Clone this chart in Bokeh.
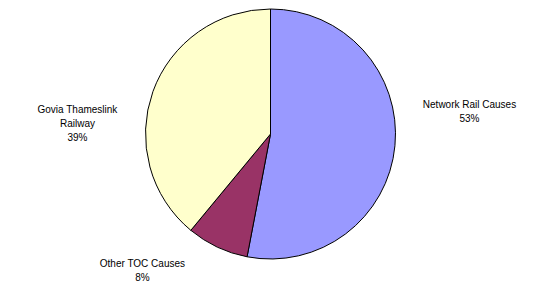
import math
from bokeh.plotting import figure
from bokeh.models import ColumnDataSource, Range1d
from bokeh.core.properties import value
from bokeh.embed import file_html
from bokeh.resources import INLINE

categories = ["Network Rail Causes", "Other TOC Causes", "Govia Thameslink Railway"]
label_texts = ["Network Rail Causes\n53%", "Other TOC Causes\n8%", "Govia Thameslink\nRailway\n39%"]
shares = [53, 8, 39]
colors = ["#9999FF", "#993366", "#FFFFCC"]

W, H = 550, 283
p = figure(width=W, height=H, output_backend="svg", toolbar_location=None,
           x_range=Range1d(0, W), y_range=Range1d(0, H), min_border=0)
p.axis.visible = False
p.grid.visible = False
p.outline_line_color = None
p.background_fill_color = "white"

def sx(x):
    return x
def sy(y):
    return H - y

cx, cy, r = sx(270), sy(133.5), 125
total = sum(shares)
starts, ends = [], []
a = math.pi / 2
for s in shares:
    b = a - 2 * math.pi * s / total
    starts.append(b)
    ends.append(a)
    a = b

src = ColumnDataSource(dict(start=starts, end=ends, color=colors, cat=categories))
p.wedge(x=cx, y=cy, radius=r, start_angle="start", end_angle="end",
        fill_color="color", line_color="black", line_width=1, source=src)

# label anchor positions (screen coords of top-center of each label block)
lx = [sx(469), sx(142), sx(77)]
ly = [sy(98), sy(257), sy(103)]
lsrc = ColumnDataSource(dict(x=lx, y=ly, text=label_texts))
p.text(x="x", y="y", text="text", source=lsrc, text_align="center",
       text_baseline="top", text_font=value("Liberation Sans"),
       text_font_size="10px", text_color="black", text_line_height=1.3)

open("out.html", "w").write(file_html(p, INLINE))
